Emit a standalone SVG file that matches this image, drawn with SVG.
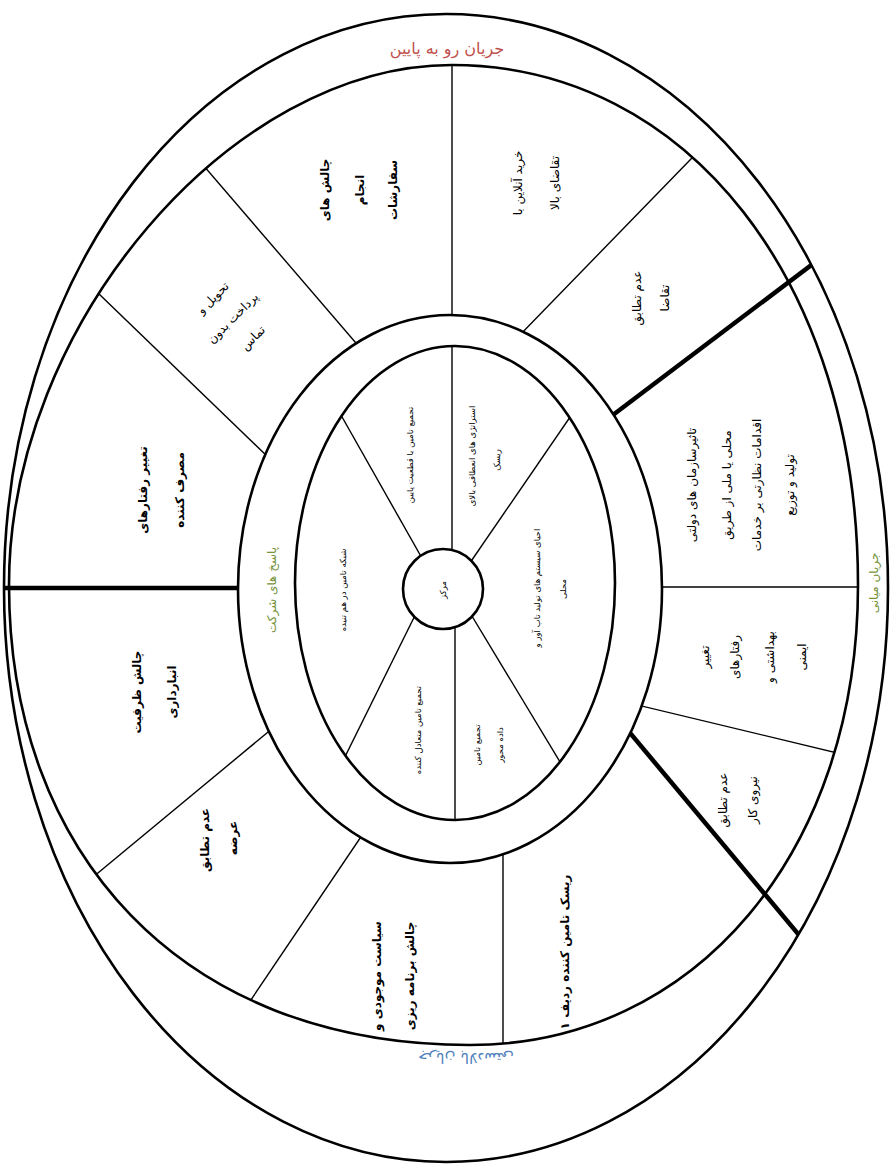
<svg xmlns="http://www.w3.org/2000/svg" width="893" height="1173" viewBox="0 0 893 1173">
<style>
.ring{fill:none;stroke:#000;stroke-width:2.6}
.thin{stroke:#000;stroke-width:1.4;fill:none}
.thick{stroke:#000;stroke-width:4.5;fill:none}
.t{font-family:"DejaVu Sans",sans-serif;font-size:12px;fill:#000;text-anchor:middle;dominant-baseline:central}
.b{font-weight:bold;font-size:12px}
.s{font-size:8.5px}
</style>
<defs>
<clipPath id="clipBand"><path clip-rule="evenodd" d="M452,65 C687.5,65 858,283.4 858,585 C858,852 695,1045 470,1045 C180,1045 9,852 9,585 C9,325 231,65 452,65 Z M238,589 a212,274 0 1,0 424,0 a212,274 0 1,0 -424,0 Z"/></clipPath>
<clipPath id="clipOuter"><path clip-rule="evenodd" d="M4,588 a442,574 0 1,0 884,0 a442,574 0 1,0 -884,0 Z M238,589 a212,274 0 1,0 424,0 a212,274 0 1,0 -424,0 Z"/></clipPath>
<clipPath id="clipInner"><path clip-rule="evenodd" d="M295,583 a160,237 0 1,0 320,0 a160,237 0 1,0 -320,0 Z M403,589 a40,40 0 1,0 80,0 a40,40 0 1,0 -80,0 Z"/></clipPath>
</defs>
<rect width="893" height="1173" fill="#fff"/>
<g id="connectors">
<g clip-path="url(#clipBand)">
<line class="thin" x1="40" y1="237" x2="300" y2="488"/>
<line class="thin" x1="130" y1="80" x2="380" y2="371"/>
<line class="thin" x1="452" y1="0" x2="452" y2="400"/>
<line class="thin" x1="760" y1="88" x2="480" y2="376"/>
<line class="thin" x1="600" y1="587" x2="900" y2="587"/>
<line class="thin" x1="600" y1="696" x2="900" y2="768"/>
<line class="thin" x1="503" y1="800" x2="503" y2="1100"/>
<line class="thin" x1="400" y1="779" x2="180" y2="1105"/>
<line class="thin" x1="320" y1="689" x2="40" y2="921"/>
</g>
<g clip-path="url(#clipOuter)">
<line class="thick" x1="-10" y1="588" x2="300" y2="588"/>
<line class="thick" x1="560" y1="455" x2="900" y2="198"/>
<line class="thick" x1="600" y1="697" x2="880" y2="1032"/>
</g>
<g clip-path="url(#clipInner)">
<line class="thin" x1="452" y1="300" x2="452" y2="589"/>
<line class="thin" x1="320" y1="378" x2="440" y2="590"/>
<line class="thin" x1="590" y1="388" x2="452" y2="589"/>
<line class="thin" x1="455" y1="589" x2="455" y2="900"/>
<line class="thin" x1="440" y1="565" x2="330" y2="787"/>
<line class="thin" x1="455" y1="588" x2="580" y2="795"/>
</g>
</g>
<g id="rings">
<ellipse class="ring" cx="446" cy="588" rx="442" ry="574"/>
<path class="ring" d="M452,65 C687.5,65 858,283.4 858,585 C858,852 695,1045 470,1045 C180,1045 9,852 9,585 C9,325 231,65 452,65 Z"/>
<ellipse class="ring" cx="450" cy="589" rx="212" ry="274"/>
<ellipse class="ring" cx="455" cy="583" rx="160" ry="237"/>
<circle class="ring" cx="443" cy="589" r="40" stroke-width="2.2"/>
</g>
<g id="flow-downstream"><text class="t" x="447" y="48" style="fill:#c0504d;font-size:16px">جریان رو به پایین</text></g>
<g id="flow-midstream"><text class="t" transform="translate(874,583) rotate(-90)" style="fill:#77933c;font-size:12px">جریان میانی</text></g>
<g id="flow-upstream"><text class="t" transform="translate(466,1058) rotate(180)" style="fill:#4f81bd;font-size:15px">جریان بالادستی</text></g>
<g id="firm-responses"><text class="t" transform="translate(272,590) rotate(-90)" style="fill:#77933c;font-size:12px">پاسخ های شرکت</text></g>
<g id="center"><text class="t s" transform="translate(443,590) rotate(-90)">مرکز</text></g>
<g id="consumer-behaviour">
<text class="t b" transform="translate(143,490) rotate(-90)">تغییر رفتارهای</text>
<text class="t b" transform="translate(180,490) rotate(-90)">مصرف کننده</text>
</g>
<g id="contactless">
<text class="t" transform="translate(213,298) rotate(-45)">تحویل و</text>
<text class="t" transform="translate(233,318) rotate(-45)">پرداخت بدون</text>
<text class="t" transform="translate(253,338) rotate(-45)">تماس</text>
</g>
<g id="order-fulfilment">
<text class="t b" transform="translate(325,190) rotate(-90)">چالش های</text>
<text class="t b" transform="translate(360,190) rotate(-90)">انجام</text>
<text class="t b" transform="translate(393,190) rotate(-90)">سفارشات</text>
</g>
<g id="online-demand">
<text class="t" transform="translate(518,183) rotate(-90)">خرید آنلاین با</text>
<text class="t" transform="translate(555,183) rotate(-90)">تقاضای بالا</text>
</g>
<g id="demand-mismatch">
<text class="t" transform="translate(637,298) rotate(-90)">عدم تطابق</text>
<text class="t" transform="translate(665,298) rotate(-90)">تقاضا</text>
</g>
<g id="government">
<text class="t" transform="translate(692,485) rotate(-90)">تاثیرسازمان های دولتی</text>
<text class="t" transform="translate(727,485) rotate(-90)">محلی یا ملی از طریق</text>
<text class="t" transform="translate(757,485) rotate(-90)">اقدامات نظارتی بر خدمات</text>
<text class="t" transform="translate(790,485) rotate(-90)">تولید و توزیع</text>
</g>
<g id="health-behaviour">
<text class="t" transform="translate(705,657) rotate(-90)">تغییر</text>
<text class="t" transform="translate(735,657) rotate(-90)">رفتارهای</text>
<text class="t" transform="translate(770,657) rotate(-90)">بهداشتی و</text>
<text class="t" transform="translate(802,657) rotate(-90)">ایمنی</text>
</g>
<g id="labour-mismatch">
<text class="t" transform="translate(723,800) rotate(-90)">عدم تطابق</text>
<text class="t" transform="translate(753,800) rotate(-90)">نیروی کار</text>
</g>
<g id="tier1-risk"><text class="t b" transform="translate(565,952) rotate(-90)">ریسک تامین کننده ردیف ۱</text></g>
<g id="inventory">
<text class="t b" transform="translate(377,976) rotate(-90)">سیاست موجودی و</text>
<text class="t b" transform="translate(410,976) rotate(-90)">چالش برنامه ریزی</text>
</g>
<g id="supply-mismatch">
<text class="t b" transform="translate(205,840) rotate(-90)">عدم تطابق</text>
<text class="t b" transform="translate(233,838) rotate(-90)">عرضه</text>
</g>
<g id="warehouse-capacity">
<text class="t b" transform="translate(137,692) rotate(-90)">چالش ظرفیت</text>
<text class="t b" transform="translate(172,692) rotate(-90)">انبارداری</text>
</g>
<g id="low-certainty">
<text class="t s" transform="translate(410,455) rotate(-90)">تجمیع تامین با قطعیت پایین</text>
</g>
<g id="flexible-strategies">
<text class="t s" transform="translate(472,456) rotate(-90)">استراتژی های انعطافی بالای</text>
<text class="t s" transform="translate(497,460) rotate(-90)">ریسک</text>
</g>
<g id="local-production">
<text class="t s" transform="translate(537,588) rotate(-90)">احیای سیستم های تولید تاب آور و</text>
<text class="t s" transform="translate(563,589) rotate(-90)">محلی</text>
</g>
<g id="data-driven">
<text class="t s" transform="translate(477,745) rotate(-90)">تجمیع تامین</text>
<text class="t s" transform="translate(500,745) rotate(-90)">داده محور</text>
</g>
<g id="balancing">
<text class="t s" transform="translate(418,730) rotate(-90)">تجمیع تامین متعادل کننده</text>
</g>
<g id="interwoven-network">
<text class="t s" transform="translate(343,590) rotate(-90)">شبکه تامین در هم تنیده</text>
</g>
</svg>
